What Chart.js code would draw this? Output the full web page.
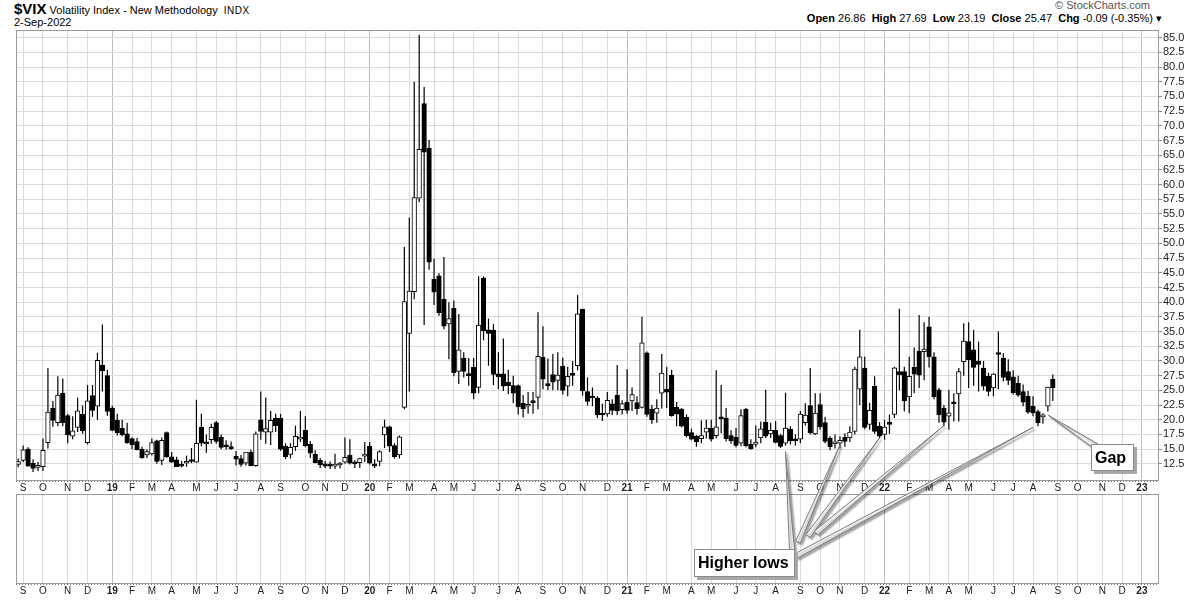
<!DOCTYPE html>
<html>
<head>
<meta charset="utf-8">
<script src="https://cdn.jsdelivr.net/npm/chart.js@4.4.0/dist/chart.umd.min.js"></script>
<style>
body{margin:0;width:1200px;height:600px;overflow:hidden;position:relative;background:#fff;font-family:"Liberation Sans",Arial,sans-serif;color:#000}
canvas{position:absolute;left:0}
#topChart{top:0}
#lowChart{top:494px}
#overlay{top:0;pointer-events:none;z-index:3}
.txt{position:absolute;white-space:nowrap}
.note{position:absolute;z-index:4;background:#fff;border:1px solid #8a8a8a;box-shadow:3px 3px 0 #a8a8a8;font:bold 16px "Liberation Sans",Arial,sans-serif;line-height:26px;box-sizing:border-box;padding-left:3px}
</style>
</head>
<body>
<div class="txt" style="left:14px;top:0px;font-size:11px"><b style="font-size:15px">$VIX</b> Volatility Index - New Methodology &nbsp;<span style="font-size:10px;letter-spacing:0.5px">INDX</span></div>
<div class="txt" style="left:14px;top:16px;font-size:11px">2-Sep-2022</div>
<div class="txt" style="right:50px;top:-1px;font-size:11px;color:#555">&copy; StockCharts.com</div>
<div class="txt" style="right:38px;top:12px;font-size:11px"><b>Open</b> 26.86 &nbsp;<b>High</b> 27.69 &nbsp;<b>Low</b> 23.19 &nbsp;<b>Close</b> 25.47 &nbsp;<b>Chg</b> -0.09 (-0.35%) &#9662;</div>

<canvas id="topChart" width="1200" height="494"></canvas>
<canvas id="lowChart" width="1200" height="106"></canvas>
<canvas id="overlay" width="1200" height="600"></canvas>

<div class="note" style="left:694px;top:549px;width:101px;height:28px">Higher lows</div>
<div class="note" style="left:1091px;top:444px;width:43px;height:27px">Gap</div>

<script>
// weekly bars, first bar = week of Monday 27-Aug-2018
const firstMonday = Date.UTC(2018, 7, 27);

const opens = [
  12.4, 13.1, 15.0, 12.6, 11.9, 12.0, 16.1, 22.0, 19.5, 24.5,
  20.7, 17.2, 18.7, 20.9, 16.1, 24.1, 22.3, 29.3, 27.5, 22.0,
  19.9, 18.6, 17.6, 16.8, 16.3, 15.0, 14.0, 14.2, 16.4, 13.1,
  17.8, 13.7, 13.2, 12.3, 12.6, 13.1, 12.8, 18.7, 16.1, 16.6,
  19.5, 17.0, 15.6, 15.4, 13.8, 13.4, 12.6, 14.5, 12.2, 20.0,
  17.9, 17.9, 20.3, 20.3, 15.5, 14.1, 15.4, 16.7, 18.2, 15.8,
  14.1, 13.1, 12.5, 12.2, 12.1, 12.3, 12.8, 14.0, 12.7, 12.7,
  13.8, 15.5, 12.5, 12.9, 17.4, 18.8, 15.6, 14.0, 22.1, 34.7,
  41.8, 57.7, 73.8, 66.2, 43.9, 44.5, 40.5, 36.3, 39.0, 28.2,
  30.5, 27.8, 28.9, 25.5, 44.1, 35.3, 35.2, 27.8, 27.8, 26.4,
  25.8, 25.8, 22.8, 22.3, 23.0, 23.8, 30.6, 26.0, 27.7, 26.7,
  29.1, 25.7, 27.9, 29.2, 38.8, 24.8, 23.8, 23.7, 21.0, 21.0,
  22.7, 24.2, 21.7, 23.0, 23.2, 22.9, 22.1, 31.4, 21.8, 21.1,
  24.5, 25.2, 27.6, 22.1, 21.8, 20.4, 17.8, 17.2, 16.8, 17.9,
  18.6, 17.3, 20.4, 20.3, 17.3, 17.0, 16.0, 21.8, 15.8, 15.8,
  16.9, 19.6, 17.6, 18.2, 17.3, 16.0, 18.4, 16.6, 16.7, 19.5,
  22.4, 17.6, 22.6, 19.5, 16.9, 15.9, 16.0, 17.0, 16.9, 18.0,
  25.2, 28.8, 19.2, 25.7, 18.9, 17.5, 19.6, 20.9, 28.2, 28.2,
  23.9, 28.9, 31.7, 31.6, 35.8, 30.7, 25.1, 22.0, 20.6, 23.0,
  24.4, 29.9, 33.3, 31.9, 30.0, 28.8, 27.4, 25.4, 31.4, 30.5,
  28.2, 27.3, 26.2, 24.8, 24.0, 22.3, 21.4, 20.5, 22.3, 26.86
];
const highs = [
  13.4, 15.6, 15.3, 13.3, 12.8, 16.8, 28.8, 23.2, 27.4, 27.0,
  21.0, 20.6, 23.8, 22.4, 25.9, 25.9, 31.4, 36.2, 28.5, 22.4,
  21.0, 20.0, 19.5, 17.0, 16.9, 15.4, 15.0, 16.8, 16.6, 17.0,
  18.0, 14.5, 13.7, 13.0, 13.9, 15.2, 23.4, 21.0, 17.5, 19.3,
  19.8, 17.5, 16.5, 16.3, 14.7, 14.0, 14.5, 14.9, 18.0, 24.8,
  23.8, 21.5, 21.0, 21.0, 16.0, 16.0, 19.0, 21.5, 20.6, 16.4,
  14.8, 13.5, 13.0, 12.9, 14.2, 12.8, 17.0, 16.7, 13.1, 13.5,
  16.2, 16.2, 13.3, 14.8, 20.0, 19.0, 16.0, 17.3, 49.4, 54.4,
  77.5, 85.5, 76.6, 67.6, 47.4, 44.9, 47.7, 40.0, 40.3, 38.0,
  31.5, 30.5, 30.5, 44.4, 44.4, 37.2, 36.3, 31.5, 33.8, 28.5,
  27.5, 26.0, 24.2, 24.7, 24.7, 38.3, 35.9, 30.4, 31.2, 31.5,
  30.6, 29.0, 30.0, 41.2, 38.9, 27.2, 25.5, 24.0, 22.7, 24.7,
  23.5, 29.3, 23.3, 28.6, 25.5, 24.0, 37.5, 31.6, 22.5, 23.5,
  31.2, 29.0, 28.5, 23.0, 22.0, 20.9, 18.5, 17.4, 19.9, 20.0,
  20.0, 28.4, 25.9, 22.0, 18.2, 18.6, 21.8, 22.0, 16.7, 19.0,
  19.7, 25.1, 19.5, 19.8, 17.6, 24.6, 18.9, 17.5, 21.5, 22.8,
  28.8, 24.5, 24.5, 20.5, 17.2, 17.5, 17.2, 17.7, 18.9, 29.0,
  35.3, 30.7, 22.9, 27.4, 19.6, 20.0, 20.9, 29.0, 38.9, 29.0,
  30.7, 32.3, 37.8, 36.6, 37.5, 31.5, 25.4, 22.5, 25.1, 24.5,
  28.8, 36.4, 36.6, 35.3, 33.3, 30.0, 28.0, 27.9, 35.0, 31.3,
  30.3, 28.4, 27.5, 26.0, 24.9, 24.0, 21.7, 21.1, 25.6, 27.69
];
const lows = [
  11.9, 12.8, 12.0, 11.1, 11.3, 11.3, 15.1, 18.8, 18.9, 18.9,
  16.0, 16.7, 17.9, 17.6, 15.8, 20.5, 20.0, 24.8, 20.7, 18.1,
  17.3, 17.2, 15.9, 15.0, 14.8, 13.4, 13.5, 13.9, 12.5, 12.3,
  13.5, 12.7, 12.0, 11.9, 12.0, 12.6, 12.7, 15.5, 14.4, 15.9,
  15.9, 15.0, 14.9, 14.9, 12.2, 12.0, 12.2, 12.1, 12.0, 16.6,
  15.9, 15.7, 17.9, 14.7, 13.3, 13.4, 14.7, 16.2, 15.3, 13.5,
  12.6, 11.8, 11.8, 11.6, 11.6, 11.7, 12.5, 12.4, 11.8, 11.8,
  12.8, 12.4, 11.8, 12.1, 15.2, 14.5, 13.4, 13.4, 21.8, 24.8,
  40.5, 57.0, 36.1, 45.5, 39.5, 37.7, 35.4, 30.3, 27.4, 26.1,
  27.2, 25.8, 23.5, 24.5, 33.5, 29.2, 25.9, 25.2, 24.9, 24.4,
  22.8, 20.9, 20.4, 21.0, 21.0, 21.8, 25.2, 25.0, 25.0, 25.0,
  24.3, 24.0, 25.8, 28.4, 24.1, 22.4, 22.3, 20.3, 19.8, 20.5,
  20.8, 20.8, 20.9, 21.0, 21.5, 20.9, 21.9, 20.5, 19.3, 19.5,
  21.9, 22.0, 20.5, 18.9, 18.7, 17.0, 16.5, 15.4, 16.0, 16.8,
  16.3, 16.8, 17.7, 16.3, 15.9, 15.3, 15.5, 15.3, 14.9, 15.3,
  16.0, 16.9, 16.9, 16.0, 15.2, 15.6, 15.8, 15.6, 16.0, 19.0,
  17.5, 17.4, 18.3, 16.0, 14.8, 15.1, 15.1, 15.4, 16.2, 17.5,
  22.5, 18.4, 18.3, 17.6, 16.9, 16.6, 17.6, 20.3, 25.0, 21.4,
  21.1, 24.5, 25.4, 26.7, 28.9, 23.5, 19.5, 18.9, 18.3, 19.7,
  19.7, 27.5, 25.4, 25.8, 24.8, 25.0, 24.0, 24.0, 25.2, 26.5,
  25.9, 24.3, 23.9, 22.3, 21.0, 20.6, 18.9, 19.3, 21.4, 23.19
];
const closes = [
  12.9, 14.9, 12.1, 11.7, 12.1, 14.8, 21.3, 19.9, 24.2, 19.5,
  17.4, 18.1, 21.5, 18.1, 23.2, 21.6, 30.1, 28.3, 21.4, 18.2,
  17.8, 17.4, 16.1, 15.7, 14.9, 13.5, 14.6, 16.1, 12.9, 16.5,
  13.7, 12.8, 12.0, 12.1, 12.7, 12.9, 16.0, 16.0, 15.9, 18.7,
  16.3, 15.3, 15.4, 15.1, 13.3, 12.4, 14.5, 12.2, 17.6, 18.0,
  18.5, 19.9, 19.0, 15.0, 13.7, 15.3, 17.2, 17.0, 15.6, 14.3,
  12.7, 12.3, 12.1, 12.1, 12.3, 12.6, 13.6, 12.6, 12.5, 13.4,
  14.0, 12.6, 12.1, 14.6, 18.8, 15.5, 13.7, 17.1, 40.1, 41.9,
  57.8, 66.0, 65.5, 46.8, 41.7, 38.2, 35.9, 37.2, 28.0, 31.9,
  28.2, 27.5, 24.5, 36.1, 35.1, 34.7, 27.7, 27.3, 25.7, 25.8,
  24.5, 22.2, 21.9, 22.5, 22.9, 30.8, 26.9, 25.8, 26.4, 27.6,
  25.0, 27.4, 27.55, 38.0, 24.9, 23.1, 23.7, 20.8, 20.8, 23.3,
  21.6, 21.5, 22.75, 21.6, 24.3, 21.9, 33.1, 20.9, 20.0, 22.0,
  27.95, 24.7, 20.7, 20.95, 18.9, 17.3, 16.7, 16.25, 17.3, 18.6,
  16.7, 18.8, 20.15, 16.8, 16.4, 15.65, 20.7, 15.6, 15.1, 16.2,
  18.45, 17.2, 18.2, 16.15, 15.45, 18.6, 16.4, 16.4, 20.95, 20.8,
  17.75, 21.15, 18.8, 16.3, 15.4, 16.26, 16.5, 16.3, 17.9, 28.6,
  30.7, 18.7, 21.6, 18.0, 17.2, 18.76, 19.2, 28.85, 27.66, 23.2,
  27.4, 27.75, 27.6, 32.0, 30.75, 23.9, 20.8, 19.6, 21.16, 22.7,
  28.2, 33.4, 30.2, 28.9, 29.4, 25.7, 24.8, 27.75, 31.1, 27.2,
  26.7, 24.6, 24.2, 23.0, 21.3, 21.15, 19.5, 20.6, 25.56, 25.47
];

const monthLabels = [
  'S','O','N','D',
  '19','F','M','A','M','J','J','A','S','O','N','D',
  '20','F','M','A','M','J','J','A','S','O','N','D',
  '21','F','M','A','M','J','J','A','S','O','N','D',
  '22','F','M','A','M','J','J','A','S','O','N','D',
  '23'
];
const yTicks = [12.5, 15, 17.5, 20, 22.5, 25, 27.5, 30, 32.5, 35, 37.5, 40, 42.5, 45, 47.5,
  50, 52.5, 55, 57.5, 60, 62.5, 65, 67.5, 70, 72.5, 75, 77.5, 80, 82.5, 85];

// callout points: [week index, value]
const higherLows = [[155, 14.6], [166, 15.7], [174, 16.9], [187, 19.0], [205, 18.7]];
const gapPoint = [208, 20.8];

const FONT = '"Liberation Sans", Arial, sans-serif';
const X_MIN = -0.45, X_MAX = 230.45;

// first weekly bar of every month -> vertical grid line + label
function weekMonth(i) { return new Date(firstMonday + i * 7 * 86400000).getUTCMonth(); }
const monthTicks = [];
for (let i = 1; i <= 230; i++) {
  if (weekMonth(i) !== weekMonth(i - 1)) monthTicks.push(i);
}
const isYear = i => /\d/.test(monthLabels[i] || '');

function xAxis(h) {
  return {
    type: 'linear', min: X_MIN, max: X_MAX, offset: false,
    afterBuildTicks: s => { s.ticks = monthTicks.map(v => ({ value: v })); },
    afterFit: s => { s.height = h; },
    grid: { offset: false, drawTicks: false, color: c => isYear(c.index) ? '#bcbcbc' : '#dcdcdc' },
    border: { display: false },
    ticks: {
      autoSkip: false, maxRotation: 0, padding: 2, color: '#222',
      font: c => ({ family: FONT, size: 10, weight: isYear(c.index) ? 'bold' : 'normal' }),
      callback: (v, i) => monthLabels[i]
    }
  };
}

// panel frame + dotted tick row under it
const framePlugin = {
  id: 'frame',
  afterDraw(chart) {
    const a = chart.chartArea, ctx = chart.ctx;
    ctx.save();
    ctx.strokeStyle = '#9a9a9a';
    ctx.lineWidth = 1;
    ctx.strokeRect(Math.round(a.left) + 0.5, Math.round(a.top) + 0.5,
      Math.round(a.right - a.left) - 1, Math.round(a.bottom - a.top));
    ctx.setLineDash([1, 2]);
    ctx.strokeStyle = '#777';
    ctx.beginPath();
    ctx.moveTo(a.left, Math.round(a.bottom) + 1.5);
    ctx.lineTo(a.right, Math.round(a.bottom) + 1.5);
    ctx.stroke();
    ctx.restore();
  }
};

function wedge(ctx, tip, base, hw) {
  const dx = base[0] - tip[0], dy = base[1] - tip[1];
  const len = Math.hypot(dx, dy);
  const px = -dy / len * hw, py = dx / len * hw;
  ctx.beginPath();
  ctx.moveTo(tip[0], tip[1]);
  ctx.lineTo(base[0] + px, base[1] + py);
  ctx.lineTo(base[0] - px, base[1] - py);
  ctx.closePath();
  ctx.fill();
  ctx.stroke();
}

const pointerPlugin = {
  id: 'pointers',
  afterDraw(chart) {
    const x = chart.scales.x, y = chart.scales.y;
    const ctx = document.getElementById('overlay').getContext('2d');
    ctx.clearRect(0, 0, 1200, 600);
    ctx.save();
    ctx.fillStyle = '#f6f6f6';
    ctx.strokeStyle = '#7c7c7c';
    ctx.lineWidth = 1;
    ctx.shadowColor = 'rgba(0,0,0,0.35)';
    ctx.shadowOffsetX = 2;
    ctx.shadowOffsetY = 2;
    ctx.shadowBlur = 2;
    const bases = [[792, 550], [798, 542], [808, 536], [816, 533], [796, 556]];
    higherLows.forEach((p, k) => {
      wedge(ctx, [x.getPixelForValue(p[0]), y.getPixelForValue(p[1])], bases[k], 2.5);
    });
    wedge(ctx, [x.getPixelForValue(gapPoint[0]), y.getPixelForValue(gapPoint[1])], [1097, 447], 3);
    ctx.restore();
  }
};

const isUp = closes.map((c, i) => c >= opens[i]);

new Chart(document.getElementById('topChart'), {
  type: 'bar',
  data: {
    datasets: [
      {
        label: 'body',
        data: closes.map((c, i) => ({ x: i, y: [opens[i], c] })),
        backgroundColor: isUp.map(u => u ? '#ffffff' : '#000000'),
        borderColor: '#000',
        borderWidth: 1,
        borderSkipped: false,
        barThickness: 4.6,
        minBarLength: 2,
        grouped: false,
        order: 0
      },
      {
        label: 'wick',
        data: highs.map((h, i) => ({ x: i, y: [lows[i], h] })),
        backgroundColor: '#000',
        borderWidth: 0,
        barThickness: 1.2,
        inflateAmount: 0,
        grouped: false,
        order: 1
      }
    ]
  },
  options: {
    responsive: false,
    animation: false,
    devicePixelRatio: 1,
    events: [],
    layout: { padding: { top: 30, left: 16, right: 0, bottom: 0 } },
    plugins: { legend: { display: false }, tooltip: { enabled: false } },
    scales: {
      x: xAxis(14),
      y: {
        type: 'linear', position: 'right', min: 9.75, max: 86.3,
        afterBuildTicks: s => { s.ticks = yTicks.map(v => ({ value: v })); },
        afterFit: s => { s.width = 41; },
        grid: { color: '#dcdcdc', tickColor: '#888', tickLength: 3 },
        border: { display: false },
        ticks: { autoSkip: false, padding: 1, color: '#222', font: { family: FONT, size: 11 }, callback: v => v.toFixed(1) }
      }
    }
  },
  plugins: [framePlugin, pointerPlugin]
});

// empty indicator panel underneath
new Chart(document.getElementById('lowChart'), {
  type: 'bar',
  data: { datasets: [] },
  options: {
    responsive: false,
    animation: false,
    devicePixelRatio: 1,
    events: [],
    layout: { padding: { top: 0, left: 16, right: 41, bottom: 0 } },
    plugins: { legend: { display: false }, tooltip: { enabled: false } },
    scales: {
      x: xAxis(17),
      y: { display: false, min: 0, max: 1 }
    }
  },
  plugins: [framePlugin]
});
</script>
</body>
</html>
